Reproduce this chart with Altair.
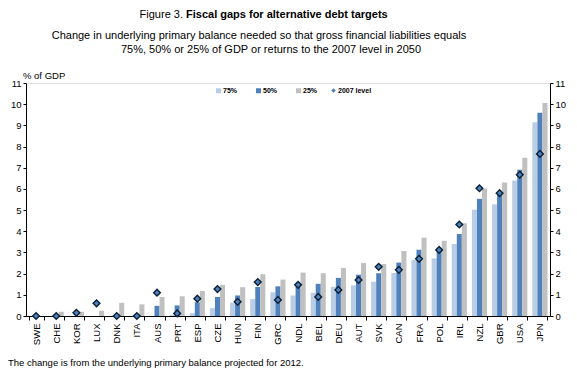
import altair as alt
import pandas as pd

countries = ["SWE", "CHE", "KOR", "LUX", "DNK", "ITA", "AUS", "PRT", "ESP", "CZE",
             "HUN", "FIN", "GRC", "NDL", "BEL", "DEU", "AUT", "SVK", "CAN", "FRA",
             "POL", "IRL", "NZL", "GBR", "USA", "JPN"]
t75 = [0.0, 0.0, 0.0, 0.0, 0.0, 0.0, 0.0, 0.05, 0.13, 0.37,
       0.63, 0.80, 1.12, 0.97, 1.10, 1.38, 1.45, 1.62, 2.03, 2.65,
       2.72, 3.40, 5.02, 5.27, 6.40, 9.15]
t50 = [0.0, 0.0, 0.0, 0.0, 0.0, 0.0, 0.48, 0.50, 0.65, 0.90,
       0.97, 1.37, 1.40, 1.40, 1.52, 1.80, 1.95, 2.02, 2.52, 3.13,
       3.10, 3.87, 5.53, 5.75, 6.90, 9.60]
t25 = [0.0, 0.20, 0.20, 0.25, 0.62, 0.55, 0.90, 0.93, 1.18, 1.47,
       1.36, 1.97, 1.72, 2.05, 2.02, 2.27, 2.50, 2.45, 3.07, 3.70,
       3.55, 4.38, 6.02, 6.30, 7.47, 10.05]
lvl2007 = [0.0, 0.0, 0.15, 0.60, 0.0, 0.0, 1.10, 0.12, 0.82, 1.27,
           0.67, 1.60, 0.76, 1.47, 0.90, 1.23, 1.70, 2.32, 2.18, 2.70,
           3.12, 4.32, 6.03, 5.80, 6.67, 7.65]
series = ["75%", "50%", "25%"]
colors = ["#b9cde5", "#4f81bd", "#c0c0c0"]

rows = []
for i, c in enumerate(countries):
    for s, vals in zip(series, [t75, t50, t25]):
        rows.append({"country": c, "series": s, "value": vals[i]})
bars_df = pd.DataFrame(rows)
pts_df = pd.DataFrame({"country": countries, "value": lvl2007, "lbl": ["2007 level"] * len(countries)})

W, H = 524, 233
PL, PT = 18, 75
FONT = "Liberation Sans"

xenc = alt.X("country:N", sort=countries, title=None,
             scale=alt.Scale(paddingInner=0.25, paddingOuter=0.125),
             axis=alt.Axis(labelAngle=270, labelFontSize=9.5, labelColor="black",
                           labelFont=FONT, labelPadding=3, tickBand="extent",
                           tickColor="black", domainColor="black", tickSize=4))

yaxis_common = dict(values=list(range(12)), grid=False, labelFontSize=9.5,
                    labelFont=FONT, labelColor="black", tickColor="black",
                    domainColor="black", tickSize=3, labelPadding=2)

bars = alt.Chart(bars_df).mark_bar().encode(
    x=xenc,
    xOffset=alt.XOffset("series:N", sort=series),
    y=alt.Y("value:Q", title=None,
            scale=alt.Scale(domain=[0, 11], nice=False),
            axis=alt.Axis(orient="left", **yaxis_common)),
    color=alt.Color("series:N", sort=series,
                    scale=alt.Scale(domain=series, range=colors),
                    legend=alt.Legend(title=None, orient="none", direction="horizontal",
                                      legendX=189, legendY=4, symbolType="square",
                                      symbolSize=25, symbolStrokeWidth=0,
                                      labelFontSize=7, labelFontWeight="bold",
                                      labelFont=FONT, labelColor="black",
                                      columnPadding=17, labelOffset=1)),
)

pts = alt.Chart(pts_df).mark_point(filled=True, size=45, stroke="#0b1f35",
                                   strokeWidth=1.4, opacity=1).encode(
    x=alt.X("country:N", sort=countries),
    y=alt.Y("value:Q", title=None,
            scale=alt.Scale(domain=[0, 11], nice=False),
            axis=alt.Axis(orient="right", **yaxis_common)),
    shape=alt.Shape("lbl:N", scale=alt.Scale(range=["diamond"]),
                    legend=alt.Legend(title=None, orient="none", legendX=304, legendY=4,
                                      symbolFillColor="#4f81bd", symbolStrokeColor="#0b1f35",
                                      symbolSize=20, symbolStrokeWidth=1.2,
                                      labelFontSize=7, labelFontWeight="bold",
                                      labelFont=FONT, labelColor="black", labelOffset=1)),
    fill=alt.value("#4f81bd"),
)

def txt(s, x, y, size=11, weight="normal", align="left"):
    return alt.Chart(pd.DataFrame({"t": [s]})).mark_text(
        font=FONT, fontSize=size, fontWeight=weight, align=align,
        baseline="middle", color="black").encode(
        text="t:N", x=alt.value(x), y=alt.value(y))

# positions relative to plot origin (screen x - 26, screen y - 83)
title1 = txt("Figure 3.", 157, -68, 11, "normal", "right")
title2 = txt("Fiscal gaps for alternative debt targets", 160, -68, 11, "bold", "left")
sub1 = txt("Change in underlying primary balance needed so that gross financial liabilities equals",
           233, -47, 11, "normal", "center")
sub2 = txt("75%, 50% or 25% of GDP or returns to the 2007 level in 2050",
           245, -33, 11, "normal", "center")
unit = txt("% of GDP", -3, -7, 9.5, "normal", "left")
foot = txt("The change is from the underlying primary balance projected for 2012.",
           -18, 280, 9.5, "normal", "left")

chart = alt.layer(bars, pts, title1, title2, sub1, sub2, unit, foot).resolve_scale(
    y="independent", color="independent", shape="independent"
).properties(
    width=W, height=H,
    autosize=alt.AutoSizeParams(type="none"),
    padding={"left": PL, "top": PT, "right": 19, "bottom": 53},
).configure_view(stroke=None).configure(background="white")

chart.save("out.html", embed_options={"renderer": "svg", "actions": False})
